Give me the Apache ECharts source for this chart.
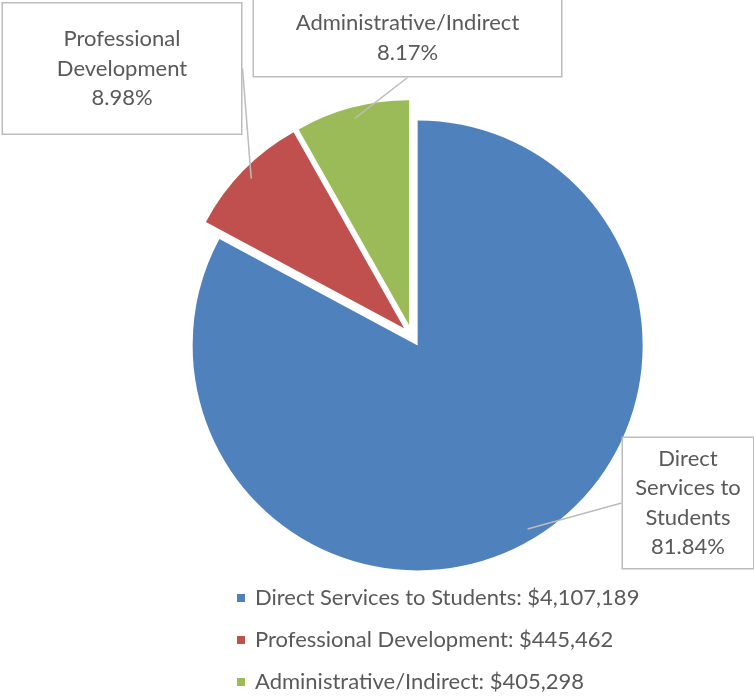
<!DOCTYPE html>
<html>
<head>
<meta charset="utf-8">
<script src="https://cdn.jsdelivr.net/npm/echarts@6/dist/echarts.min.js"></script>
<style>html,body{margin:0;padding:0;background:#fff;}#c{width:754px;height:697px;}</style>
</head>
<body>
<div id="c"></div>
<script>
const categories = ['Direct Services to Students', 'Professional Development', 'Administrative/Indirect'];
const amounts = [4107189, 445462, 405298];
const percentLabels = ['81.84%', '8.98%', '8.17%'];
const calloutNames = ['Direct\nServices to\nStudents', 'Professional\nDevelopment', 'Administrative/Indirect'];
const colors = ['#4F81BD', '#C0504D', '#9BBB59'];

// callout box layout (center x, center y, width, height)
const boxes = [
  { cx: 688, cy: 503, w: 130, h: 130 },
  { cx: 122, cy: 68.5, w: 238, h: 130 },
  { cx: 407.5, cy: 38, w: 307, h: 76 }
];

const fontFam = 'Lato, "Open Sans", sans-serif';
const textCol = '#595959';
const pieCenter = [412, 336];
const pieRadius = 225;

const chart = echarts.init(document.getElementById('c'), null, { renderer: 'canvas' });

const sliceData = categories.map((n, i) => ({
  name: n,
  value: amounts[i],
  selected: true,
  itemStyle: { color: colors[i] }
}));

const labelData = categories.map((n, i) => {
  const lines = calloutNames[i].split('\n').length + 1;
  const lh = 29.5;
  const vpad = (boxes[i].h - lines * lh) / 2;
  return {
    name: n,
    value: amounts[i],
    label: {
      width: boxes[i].w,
      padding: [vpad, 0, vpad, 0],
      lineHeight: lh
    }
  };
});

chart.setOption({
  animation: false,
  legend: {
    orient: 'vertical',
    left: 237,
    top: 587,
    padding: 0,
    icon: 'rect',
    itemWidth: 8,
    itemHeight: 8,
    itemGap: 20,
    selectedMode: false,
    textStyle: { fontFamily: fontFam, fontSize: 22, color: textCol, lineHeight: 21, padding: [0, 0, 0, 5] },
    formatter: function (name) {
      const i = categories.indexOf(name);
      return name + ': $' + amounts[i].toLocaleString('en-US');
    },
    data: categories
  },
  series: [{
    type: 'pie',
    name: 'slices',
    center: pieCenter,
    radius: [0, pieRadius],
    startAngle: 90,
    clockwise: true,
    selectedMode: 'multiple',
    selectedOffset: 11,
    emphasis: { disabled: true },
    itemStyle: { borderWidth: 0 },
    label: { show: false },
    labelLine: { show: false },
    data: sliceData
  }, {
    type: 'pie',
    name: 'callouts',
    center: pieCenter,
    radius: [0, pieRadius],
    startAngle: 90,
    clockwise: true,
    silent: true,
    z: 3,
    avoidLabelOverlap: false,
    emphasis: { disabled: true },
    itemStyle: { color: 'rgba(0,0,0,0)', borderWidth: 0 },
    data: labelData,
    label: {
      show: true,
      position: 'outside',
      fontFamily: fontFam,
      fontSize: 22,
      color: textCol,
      align: 'center',
      backgroundColor: '#ffffff',
      borderColor: '#bcbcbc',
      borderWidth: 1.5,
      formatter: function (p) {
        return calloutNames[p.dataIndex] + '\n' + percentLabels[p.dataIndex];
      }
    },
    labelLine: {
      show: true,
      length: 6,
      length2: 0,
      lineStyle: { color: '#bcbcbc', width: 1.5 }
    },
    labelLayout: function (p) {
      const b = boxes[p.dataIndex];
      return { x: b.cx, y: b.cy, align: 'center', verticalAlign: 'middle' };
    }
  }]
});
</script>
</body>
</html>
